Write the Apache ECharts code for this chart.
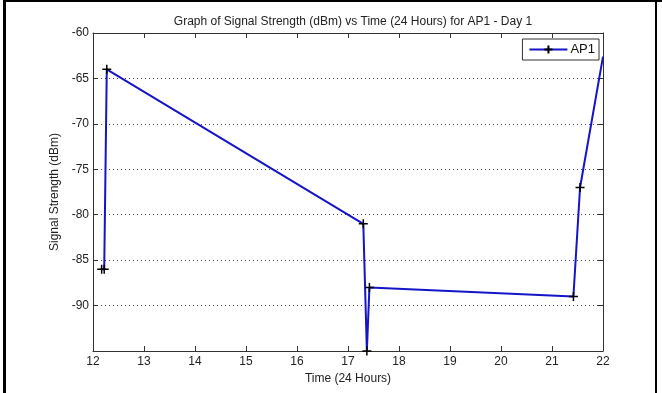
<!DOCTYPE html>
<html>
<head>
<meta charset="utf-8">
<script src="https://cdn.jsdelivr.net/npm/echarts@6/dist/echarts.min.js"></script>
<style>
  html, body { margin: 0; padding: 0; background: #fff; }
  #main { width: 662px; height: 393px; }
</style>
</head>
<body>
<div id="main"></div>
<script>
// 数据
var times = [12.17, 12.22, 12.27, 17.30, 17.37, 17.42, 21.42, 21.55, 22.0];
var strength = [-86, -86, -64, -81, -95, -88, -89, -77, -62.6];
var xTicks = [12, 13, 14, 15, 16, 17, 18, 19, 20, 21, 22];
var yTicks = [-95, -90, -85, -80, -75, -70, -65, -60];

var plusSymbol = 'path://M0,5 L10,5 M5,0 L5,10';
var font = 'Arial, "Liberation Sans", sans-serif';

var lineData = [];
times.forEach(function (t, i) {
    var item = { value: [t, strength[i]] };
    // 最后一点只是线延伸到边框, 不画标记
    if (i === times.length - 1) item.symbol = 'none';
    lineData.push(item);
});

var myCharts = echarts.init(document.getElementById('main'));

var axisLine = { show: true, lineStyle: { color: '#333', width: 1 } };
var axisTick = { show: true, inside: true, length: 5, lineStyle: { color: '#333' } };

var option = {
    backgroundColor: '#fff',
    animation: false,
    title: {
        text: 'Graph of Signal Strength (dBm) vs Time (24 Hours) for AP1 - Day 1',
        left: 348,
        top: 11,
        textAlign: 'center',
        textStyle: { fontSize: 12, fontWeight: 'normal', color: '#222', fontFamily: font }
    },
    legend: {
        right: 63,
        top: 39,
        orient: 'horizontal',
        itemWidth: 38,
        itemHeight: 10,
        itemGap: 4,
        padding: [4, 4, 4, 6],
        borderColor: '#333',
        borderWidth: 1,
        backgroundColor: '#fff',
        textStyle: { fontSize: 13, color: '#111', fontFamily: font, padding: [0, 0, 0, -2] },
        data: ['AP1']
    },
    grid: { left: 93, right: 59, top: 33, bottom: 42 },
    xAxis: [{
        type: 'value',
        min: xTicks[0],
        max: xTicks[xTicks.length - 1],
        interval: 1,
        name: 'Time (24 Hours)',
        nameLocation: 'middle',
        nameGap: 22,
        nameTextStyle: { fontSize: 12, color: '#222', fontFamily: font },
        axisLine: axisLine,
        axisTick: axisTick,
        axisLabel: { fontSize: 12, color: '#222', fontFamily: font, margin: 5 },
        splitLine: { show: false }
    }, {
        type: 'value',
        position: 'top',
        min: xTicks[0],
        max: xTicks[xTicks.length - 1],
        interval: 1,
        axisLine: axisLine,
        axisTick: axisTick,
        axisLabel: { show: false },
        splitLine: { show: false }
    }],
    yAxis: [{
        type: 'value',
        min: yTicks[0],
        max: yTicks[yTicks.length - 1],
        interval: 5,
        name: 'Signal Strength (dBm)',
        nameLocation: 'middle',
        nameGap: 29,
        nameTextStyle: { fontSize: 12, color: '#222', fontFamily: font },
        axisLine: axisLine,
        axisTick: axisTick,
        axisLabel: { fontSize: 12, color: '#222', fontFamily: font, margin: 4, showMinLabel: false },
        splitLine: { show: true, lineStyle: { color: '#444', type: [1, 3], width: 1 } }
    }, {
        type: 'value',
        position: 'right',
        min: yTicks[0],
        max: yTicks[yTicks.length - 1],
        interval: 5,
        axisLine: axisLine,
        axisTick: axisTick,
        axisLabel: { show: false },
        splitLine: { show: false }
    }],
    graphic: [
        { type: 'rect', shape: { x: 3, y: 0, width: 3, height: 393 }, style: { fill: '#000' } },
        { type: 'rect', shape: { x: 3, y: 0, width: 659, height: 2 }, style: { fill: '#000' } },
        { type: 'rect', shape: { x: 655, y: 0, width: 2, height: 393 }, style: { fill: '#000' } }
    ],
    series: [{
        name: 'AP1',
        type: 'line',
        data: lineData,
        symbol: plusSymbol,
        symbolSize: 9,
        showAllSymbol: true,
        clip: true,
        lineStyle: { color: '#1414c8', width: 2 },
        itemStyle: { color: 'rgba(0,0,0,0)', borderColor: '#000', borderWidth: 1.5 }
    }]
};

myCharts.setOption(option);
</script>
</body>
</html>
